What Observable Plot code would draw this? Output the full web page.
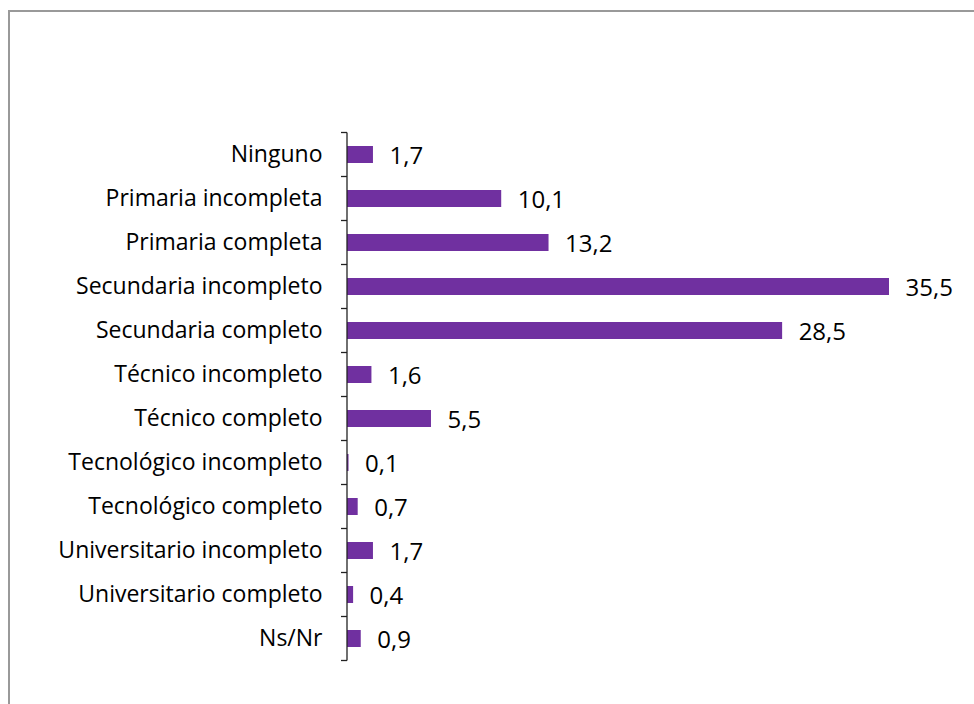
<!DOCTYPE html>
<html>
<head>
<meta charset="utf-8">
<script src="https://cdn.jsdelivr.net/npm/d3@7"></script>
<script src="https://cdn.jsdelivr.net/npm/@observablehq/plot@0.6"></script>
<style>
  html, body { margin: 0; padding: 0; background: #fff; }
  #frame { position: absolute; left: 8px; top: 10px; width: 1000px; height: 800px;
           border-left: 2px solid #999; border-top: 2px solid #999; }
  #chart { position: absolute; left: 0; top: 0; }
</style>
</head>
<body>
<div id="frame"></div>
<div id="chart"></div>
<script>
const categories = [
  "Ninguno",
  "Primaria incompleta",
  "Primaria completa",
  "Secundaria incompleto",
  "Secundaria completo",
  "Técnico incompleto",
  "Técnico completo",
  "Tecnológico incompleto",
  "Tecnológico completo",
  "Universitario incompleto",
  "Universitario completo",
  "Ns/Nr"
];
const values = [1.7, 10.1, 13.2, 35.5, 28.5, 1.6, 5.5, 0.1, 0.7, 1.7, 0.4, 0.9];

const data = categories.map((c, i) => ({category: c, value: values[i]}));
const fmt = v => d3.format(".1f")(v).replace(".", ",");
const FONT = "'Open Sans', sans-serif";
const PAD = 0.615;

// axis line and tick marks at band boundaries, drawn left of the axis
function boundaryTicks(index, scales, values, dimensions) {
  const g = d3.create("svg:g");
  const y = scales.scales.y;
  const step = y.step;
  const bw = y.bandwidth;
  const x0 = dimensions.marginLeft;
  const edges = categories.map(c => scales.y(c) - (step - bw) / 2);
  edges.push(scales.y(categories[categories.length - 1]) + bw + (step - bw) / 2);
  g.append("line")
    .attr("x1", x0).attr("x2", x0)
    .attr("y1", edges[0]).attr("y2", edges[edges.length - 1])
    .attr("stroke", "#222").attr("stroke-width", 1.3);
  for (const e of edges) {
    g.append("line")
      .attr("x1", x0 - 6).attr("x2", x0)
      .attr("y1", e).attr("y2", e)
      .attr("stroke", "#222").attr("stroke-width", 1.3);
  }
  return g.node();
}

const chart = Plot.plot({
  width: 974,
  height: 704,
  marginLeft: 347,
  marginRight: 85,
  marginTop: 131,
  marginBottom: 43,
  style: {fontFamily: FONT, fontSize: "20px", color: "#000", background: "transparent"},
  x: {domain: [0, 35.5], axis: null},
  y: {domain: categories, paddingInner: PAD, paddingOuter: PAD / 2, align: 0.5},
  marks: [
    Plot.barX(data, {x: "value", y: "category", fill: "#7030A0"}),
    Plot.text(data, {x: "value", y: "category", text: d => fmt(d.value), textAnchor: "start",
      dx: 16, dy: 1, fontSize: 24, fill: "#000"}),
    Plot.axisY({tickSize: 0, tickPadding: 25, fontSize: 23, label: null, fill: "#000", dy: 0}),
    boundaryTicks
  ]
});
document.getElementById("chart").appendChild(chart);
</script>
</body>
</html>
